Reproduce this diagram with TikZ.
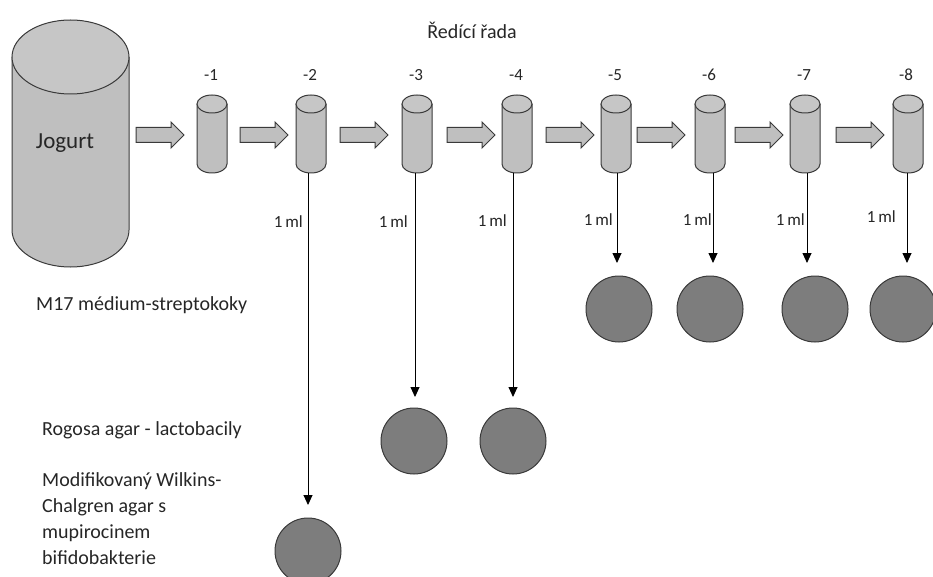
\documentclass[tikz,border=0pt]{standalone}
\usepackage{fontspec}
\setmainfont{Carlito}
\usetikzlibrary{arrows.meta}
\definecolor{cylfill}{HTML}{BFBFBF}
\definecolor{cyltop}{HTML}{C6C6C6}
\definecolor{dishfill}{HTML}{7D7D7D}
\definecolor{edge}{HTML}{3A3A3A}
\definecolor{txt}{HTML}{262626}
\tikzset{
  outl/.style={draw=edge, line width=1pt},
  dish/.style={circle, outl, fill=dishfill, minimum size=66pt, inner sep=0pt},
  lbl/.style={text=txt, inner sep=0pt, font=\fontsize{17}{20}\selectfont},
  bigl/.style={text=txt, inner sep=0pt, font=\fontsize{20}{26}\selectfont, align=left, anchor=west},
  drop/.style={draw=black, line width=0.9pt, -{Triangle[length=10pt,width=9pt]}},
}
% cylinder: center x, top y, bottom y, half width, ellipse y radius, name
\newcommand\drawcyl[6]{%
  \pgfmathsetmacro\ctop{-(#2)-(#5)}%
  \pgfmathsetmacro\cbot{-(#3)+(#5)}%
  \fill[cylfill] (#1-#4,\ctop) -- (#1-#4,\cbot)
     arc[start angle=180,end angle=360,x radius=#4,y radius=#5]
     -- (#1+#4,\ctop) arc[start angle=0,end angle=180,x radius=#4,y radius=#5] -- cycle;
  \draw[outl] (#1-#4,\ctop) -- (#1-#4,\cbot)
     arc[start angle=180,end angle=360,x radius=#4,y radius=#5]
     -- (#1+#4,\ctop);
  \draw[outl, fill=cyltop] (#1,\ctop) ellipse[x radius=#4,y radius=#5];
  \coordinate (#6) at (#1,-#3);
}
% block arrow: left x, center y
\newcommand\blockarrow[2]{%
  \draw[outl, fill=cylfill, line join=miter] (#1,-#2+7.5) -- (#1+35,-#2+7.5) -- (#1+35,-#2+13) -- (#1+48,-#2)
    -- (#1+35,-#2-13) -- (#1+35,-#2-7.5) -- (#1,-#2-7.5) -- cycle;
}
\begin{document}
\begin{tikzpicture}[x=1pt,y=1pt]
\useasboundingbox (0,0) rectangle (933,-577);
\clip (0,0) rectangle (933,-577);

\node[lbl, font=\fontsize{20}{24}\selectfont] (title) at (472,-30) {Ředící řada};

% big cylinder
\drawcyl{70.5}{20}{267}{58.5}{37}{jb}
\node[lbl, font=\fontsize{23}{26}\selectfont] (jog) at (65,-143) {Jogurt};

% small cylinders
\drawcyl{212}{95}{173}{15}{9}{c1}
\drawcyl{311}{95}{173}{15}{9}{c2}
\drawcyl{417}{95}{173}{15}{9}{c3}
\drawcyl{517}{95}{173}{15}{9}{c4}
\drawcyl{616}{95}{173}{15}{9}{c5}
\drawcyl{710}{95}{173}{15}{9}{c6}
\drawcyl{805}{95}{173}{15}{9}{c7}
\drawcyl{908}{95}{173}{15}{9}{c8}

\node[lbl] (n1) at (211,-75) {-1};
\node[lbl] (n2) at (310,-75) {-2};
\node[lbl] (n3) at (416,-75) {-3};
\node[lbl] (n4) at (516,-75) {-4};
\node[lbl] (n5) at (615,-75) {-5};
\node[lbl] (n6) at (709,-75) {-6};
\node[lbl] (n7) at (804,-75) {-7};
\node[lbl] (n8) at (906,-75) {-8};

% block arrows
\blockarrow{136}{135}
\blockarrow{240}{135}
\blockarrow{340}{135}
\blockarrow{447}{135}
\blockarrow{546}{135}
\blockarrow{637}{135}
\blockarrow{735}{135}
\blockarrow{836}{135}

% dishes
\node[dish] (d2) at (308,-551) {};
\node[dish] (d3) at (414,-441) {};
\node[dish] (d4) at (513,-441) {};
\node[dish] (d5) at (619,-309) {};
\node[dish] (d6) at (710,-309) {};
\node[dish] (d7) at (815,-309) {};
\node[dish] (d8) at (903,-309) {};

% transfer lines
\coordinate (s2) at (308,-173); \coordinate (t2) at (308,-505);
\coordinate (s3) at (415,-173); \coordinate (t3) at (415,-397);
\coordinate (s4) at (513,-173); \coordinate (t4) at (513,-397);
\coordinate (s5) at (617,-173); \coordinate (t5) at (617,-263);
\coordinate (s6) at (713,-173); \coordinate (t6) at (713,-263);
\coordinate (s7) at (807,-173); \coordinate (t7) at (807,-263);
\coordinate (s8) at (907,-173); \coordinate (t8) at (907,-263);
\foreach \i in {2,...,8} {\draw[drop] (s\i) -- (t\i);}

\node[lbl, anchor=east] (m2) at (303,-222) {1\,ml};
\node[lbl, anchor=east] (m3) at (408,-222) {1\,ml};
\node[lbl, anchor=east] (m4) at (507,-221) {1\,ml};
\node[lbl, anchor=east] (m5) at (613,-220) {1\,ml};
\node[lbl, anchor=east] (m6) at (712,-220) {1\,ml};
\node[lbl, anchor=east] (m7) at (805,-220) {1\,ml};
\node[lbl, anchor=east] (m8) at (896,-217) {1\,ml};

% media labels
\node[bigl] (lm17) at (36,-305) {M17 médium-streptokoky};
\node[bigl] (lrog) at (42,-430) {Rogosa agar - lactobacily};
\node[bigl] (lwil) at (42,-519) {Modifikovaný Wilkins-\\Chalgren agar s\\mupirocinem\\bifidobakterie};
\end{tikzpicture}
\end{document}
